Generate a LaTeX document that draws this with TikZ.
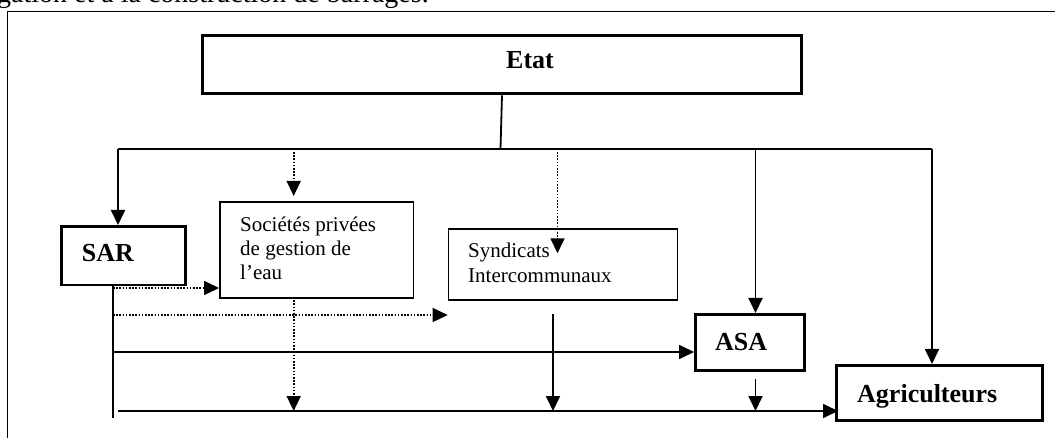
\documentclass[tikz,border=0pt]{standalone}
\usepackage{fontspec}
\setmainfont{Liberation Serif}
\usetikzlibrary{arrows.meta,calc}
\begin{document}
\begin{tikzpicture}[x=1pt,y=-1pt,
  thickbox/.style={draw, rectangle, line width=2.8pt, inner sep=0pt, anchor=north west},
  thinbox/.style={draw, rectangle, line width=1.7pt, inner sep=0pt, anchor=north west},
  regtxt/.style={font=\fontsize{21}{24.5}\selectfont, inner sep=0pt, anchor=base west},
  boldtxt/.style={font=\fontsize{26}{30}\selectfont\bfseries, inner sep=0pt, anchor=base west},
  toptxt/.style={font=\fontsize{28}{32}\selectfont, inner sep=0pt, anchor=base west},
  line/.style={line width=1.8pt},
  arr/.style={line width=1.8pt, -{Triangle[length=15pt,width=14pt]}},
  dotline/.style={line width=1.6pt, dash pattern=on 1.6pt off 1.6pt},
  darr/.style={dotline, -{Triangle[length=15pt,width=14pt]}}]
\useasboundingbox (0,0) rectangle (1055,438);
\fill[white] (0,0) rectangle (1055,438);
% cut-off text at the top
\node[toptxt] (top) at (-3,3) {gation et à la construction de barrages.};
% outer frame
\coordinate (fbl) at (7.6,460);
\coordinate (ftl) at (7.6,11.4);
\coordinate (ftr) at (1080,11.4);
\draw[line width=1.6pt] (fbl) -- (ftl) -- (ftr);
% boxes
\node[thickbox, minimum width=599.6pt, minimum height=58.3pt] (etat) at (200.8,34.2) {};
\node[thickbox, minimum width=123.7pt, minimum height=58.7pt] (sar) at (60.3,225) {};
\node[thinbox, minimum width=193.5pt, minimum height=96.5pt] (soc) at (219,201) {};
\node[thinbox, minimum width=229pt, minimum height=70.7pt] (syn) at (447.7,228.3) {};
\node[thickbox, minimum width=109pt, minimum height=56pt] (asa) at (694,313) {};
\node[thickbox, minimum width=206pt, minimum height=55pt] (agri) at (835,364) {};
% texts
\node[boldtxt] (etatT) at (506,69) {Etat};
\node[boldtxt] (sarT) at (81.6,262) {SAR};
\node[regtxt] (socT1) at (240,231.5) {Sociétés privées};
\node[regtxt] (socT2) at (240,255.5) {de gestion de};
\node[regtxt] (socT3) at (240,280) {l’eau};
\node[regtxt] (synT1) at (468,258) {Syndicats};
\node[regtxt] (synT2) at (468,283) {Intercommunaux};
\node[boldtxt] (asaT) at (715,350) {ASA};
\node[boldtxt] (agriT) at (857,402) {Agriculteurs};
% distribution bus from Etat
\coordinate (busL) at (118,148.8);
\coordinate (busR) at (932,148.8);
\coordinate (busC) at (500.5,148.8);
\coordinate (bd1) at (293.7,148.8);
\coordinate (bd2) at (557.5,148.8);
\coordinate (bs3) at (755.5,148.8);
\draw[line] (etat.south) -- (busC);
\draw[line] (busL) -- (busR);
\draw[arr] (busL) -- (busL |- sar.north);
\draw[darr] (bd1) -- ($(bd1 |- soc.north)+(0,-5)$);
\draw[darr] (bd2) -- ($(bd2 |- syn.north)+(0,25)$);
\draw[arr] (bs3) -- (bs3 |- asa.north);
\draw[arr] (busR) -- (busR |- agri.north);
% SAR distribution
\coordinate (sv) at ($(sar.south west)+(52.7,0)$);
\coordinate (svB) at (113,418);
\coordinate (h1) at (113,288);
\coordinate (h2) at (113,315);
\coordinate (h3) at (113,352);
\coordinate (h4) at (117.5,411);
\draw[line] (sv) -- (svB);
\draw[darr] (h1) -- (h1 -| soc.west);
\draw[darr] (h2) -- (h2 -| syn.west);
\draw[arr] (h3) -- (h3 -| asa.west);
\draw[arr] (h4) -- ($(h4 -| agri.west)+(3,0)$);
% down arrows to the bottom line
\coordinate (sd) at (293.7,297);
\draw[darr] (sd) -- (sd |- h4);
\coordinate (yd) at (553,314);
\draw[arr] (yd) -- (yd |- h4);
\coordinate (ad) at (755.5,379);
\draw[arr] (ad) -- (ad |- h4);
\end{tikzpicture}
\end{document}
